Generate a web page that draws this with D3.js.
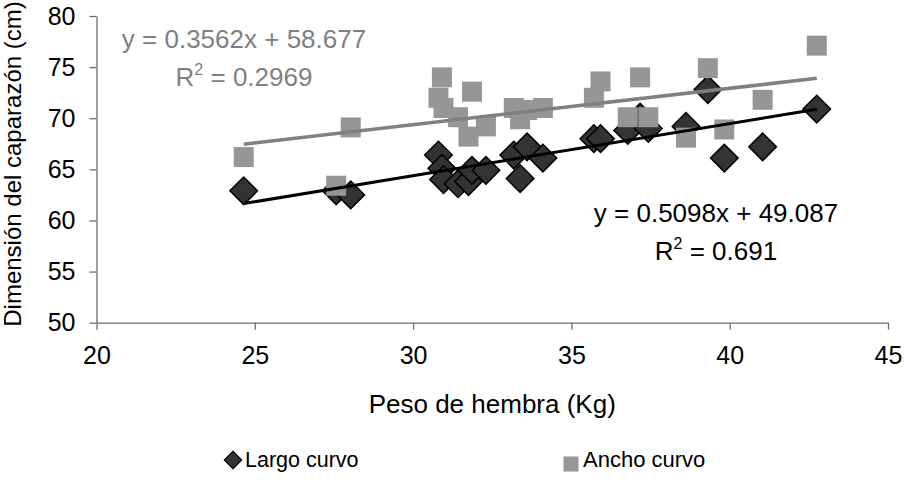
<!DOCTYPE html>
<html>
<head>
<meta charset="utf-8">
<script src="https://cdn.jsdelivr.net/npm/d3@7"></script>
<style>
  body { margin: 0; background: #fff; }
  text { font-family: "Liberation Sans", Arial, sans-serif; }
</style>
</head>
<body>
<div id="mainDiv"></div>
<script>

// weight of each female (kg), one per turtle
var pesoHembra = [24.65, 27.57, 28.03, 30.80, 30.91, 30.96, 31.42, 31.75, 31.86, 32.30,
                  33.18, 33.38, 33.60, 34.10, 35.71, 35.92, 36.78, 37.17, 37.43, 38.62,
                  39.31, 39.83, 41.04, 42.75];

// curved carapace length
var largoCurvo = [62.9, 62.9, 62.5, 66.4, 65.1, 64.0, 63.6, 63.8, 64.9, 64.9,
                  66.4, 64.1, 67.2, 66.1, 68.0, 68.0, 68.8, 70.1, 69.0, 69.2,
                  72.8, 66.1, 67.2, 70.9];

// curved carapace width
var anchoCurvo = [66.2, 63.4, 69.1, 72.0, 74.0, 71.0, 70.1, 68.2, 72.6, 69.2,
                  71.0, 69.9, 70.8, 71.0, 72.0, 73.6, 70.1, 74.0, 70.1, 68.1,
                  74.9, 68.9, 71.8, 77.1];

// trend lines as printed on the chart [slope, intercept]
var trendLargo = [0.5098, 49.087];
var trendAncho = [0.3562, 58.677];

var eqLargo = ["y = 0.5098x + 49.087", "0.691"];
var eqAncho = ["y = 0.3562x + 58.677", "0.2969"];

var xTicks = [20, 25, 30, 35, 40, 45];
var yTicks = [50, 55, 60, 65, 70, 75, 80];

var seriesNames = ["Largo curvo", "Ancho curvo"];

var xTitle = "Peso de hembra (Kg)";
var yTitle = "Dimensión del caparazón (cm)";

var width = 904, height = 482;
var plotLeft = 96.5, plotRight = 888, plotTop = 16, plotBottom = 322.7;
var axisColor = "#6e6e6e";
var fontSize = 25;

var svg = d3.select("#mainDiv").append("svg")
    .attr("width", width).attr("height", height).attr("id", "mainCanvas");

var x = d3.scaleLinear().domain([20, 45]).range([plotLeft, plotRight]);
var y = d3.scaleLinear().domain([50, 80]).range([plotBottom, plotTop]);

// axes
var xAxis = svg.append("g").attr("transform", "translate(0," + plotBottom + ")")
    .call(d3.axisBottom(x).tickValues(xTicks).tickSize(7).tickSizeOuter(0).tickPadding(17));
var yAxis = svg.append("g").attr("transform", "translate(" + plotLeft + ",0)")
    .call(d3.axisLeft(y).tickValues(yTicks).tickSize(7).tickSizeOuter(0).tickPadding(14));

[xAxis, yAxis].forEach(function(a){
    a.selectAll("path, line").attr("stroke", axisColor).attr("stroke-width", 1.3);
    a.selectAll("text").attr("font-size", fontSize).attr("fill", "#000")
        .style("font-family", "'Liberation Sans', Arial, sans-serif");
});

// axis titles
svg.append("text").attr("x", (plotLeft + plotRight) / 2).attr("y", 413)
    .attr("text-anchor", "middle").attr("font-size", 26).text(xTitle);

svg.append("text").attr("transform", "translate(21,164) rotate(-90)")
    .attr("text-anchor", "middle").attr("font-size", 24).text(yTitle);

var diamond = d3.symbol().type(d3.symbolSquare).size(380);
var square = d3.symbol().type(d3.symbolSquare).size(400);

// Largo curvo markers (diamonds)
svg.append("g").selectAll("path").data(pesoHembra).enter().append("path")
    .attr("d", diamond)
    .attr("transform", function(d, i){ return "translate(" + x(d) + "," + y(largoCurvo[i]) + ") rotate(45)"; })
    .attr("fill", "#333333").attr("stroke", "#000").attr("stroke-width", 1.5);

// Ancho curvo markers (squares)
svg.append("g").selectAll("path").data(pesoHembra).enter().append("path")
    .attr("d", square)
    .attr("transform", function(d, i){ return "translate(" + x(d) + "," + y(anchoCurvo[i]) + ")"; })
    .attr("fill", "#969696");

// trend lines from smallest to largest weight
var xExt = d3.extent(pesoHembra);
function formTrendLine(coef, color, w){
    svg.append("line")
        .attr("x1", x(xExt[0])).attr("y1", y(coef[0] * xExt[0] + coef[1]))
        .attr("x2", x(xExt[1])).attr("y2", y(coef[0] * xExt[1] + coef[1]))
        .attr("stroke", color).attr("stroke-width", w);
}
formTrendLine(trendLargo, "#000", 3);
formTrendLine(trendAncho, "#808080", 3.5);

// equations
function formEquation(eq, cx, by, color){
    svg.append("text").attr("x", cx).attr("y", by).attr("text-anchor", "middle")
        .attr("font-size", 26).attr("fill", color).text(eq[0]);
    var r2 = svg.append("text").attr("x", cx).attr("y", by + 38).attr("text-anchor", "middle")
        .attr("font-size", 26).attr("fill", color);
    r2.append("tspan").text("R");
    r2.append("tspan").attr("font-size", 16).attr("dy", -11).text("2");
    r2.append("tspan").attr("dy", 11).text(" = " + eq[1]);
}
formEquation(eqAncho, 244, 48, "#808080");
formEquation(eqLargo, 716, 222, "#000");

// legend
var legend = svg.append("g");
legend.append("path").attr("d", d3.symbol().type(d3.symbolSquare).size(150))
    .attr("transform", "translate(233,460) rotate(45)")
    .attr("fill", "#333333").attr("stroke", "#000").attr("stroke-width", 1.2);
legend.append("text").attr("x", 245).attr("y", 467).attr("font-size", 21.5).text(seriesNames[0]);
legend.append("path").attr("d", d3.symbol().type(d3.symbolSquare).size(225))
    .attr("transform", "translate(571,464)")
    .attr("fill", "#969696");
legend.append("text").attr("x", 583).attr("y", 467).attr("font-size", 22).text(seriesNames[1]);

</script>
</body>
</html>
